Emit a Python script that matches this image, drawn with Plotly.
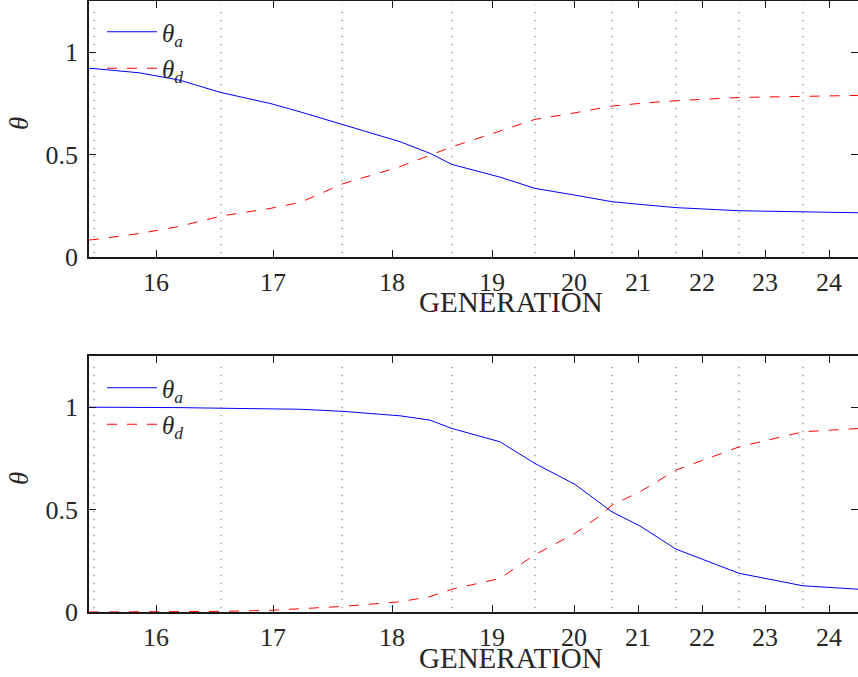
import plotly.graph_objects as go

# ---- data -------------------------------------------------------------
# x axis: time (arbitrary units); generations 16..24 label intervals
gen_labels = ["16", "17", "18", "19", "20", "21", "22", "23", "24"]
gen_tick_t = [0.67, 1.84, 3.03, 4.03, 4.85, 5.49, 6.13, 6.76, 7.40]
gen_bound_t = [0.05, 1.32, 2.53, 3.63, 4.46, 5.23, 5.87, 6.50, 7.14]

t = [0.00, 0.05, 0.51, 0.91, 1.32, 1.81, 2.11, 2.53, 3.11, 3.41, 3.63,
     4.11, 4.46, 4.86, 5.11, 5.23, 5.51, 5.87, 6.50, 7.14, 7.70]

theta_a_top = [0.920, 0.920, 0.899, 0.863, 0.803, 0.750, 0.709, 0.647, 0.563, 0.506, 0.452,
               0.390, 0.335, 0.302, 0.281, 0.270, 0.257, 0.241, 0.226, 0.221, 0.216]
theta_d_top = [0.083, 0.085, 0.115, 0.150, 0.200, 0.237, 0.266, 0.356, 0.441, 0.497, 0.538,
               0.615, 0.672, 0.704, 0.726, 0.737, 0.750, 0.763, 0.779, 0.784, 0.789]

theta_a_bot = [1.000, 1.000, 0.999, 0.998, 0.995, 0.992, 0.990, 0.980, 0.958, 0.937, 0.896,
               0.831, 0.725, 0.623, 0.535, 0.489, 0.420, 0.307, 0.189, 0.128, 0.111]
theta_d_bot = [0.000, 0.000, 0.000, 0.001, 0.003, 0.008, 0.015, 0.027, 0.050, 0.075, 0.111,
               0.164, 0.280, 0.384, 0.470, 0.522, 0.587, 0.693, 0.806, 0.880, 0.896]

y_tickvals = [0, 0.5, 1]
y_ticktext = ["0", "0.5", "1"]

# ---- figure -----------------------------------------------------------
FONT = "Liberation Serif, Times New Roman, serif"
AX = "#1a1a1a"
W, H = 858, 677
ML, MR, MT, MB = 89, 0, 1, 65

fig = go.Figure()

name_a = "<i>θ</i><sub><i>a</i></sub>"
name_d = "<i>θ</i><sub><i>d</i></sub>"

panels = [
    ("x", "y", "legend", theta_a_top, theta_d_top),
    ("x2", "y2", "legend2", theta_a_bot, theta_d_bot),
]
for xa, ya, lg, ya_vals, yd_vals in panels:
    fig.add_trace(go.Scatter(x=t, y=ya_vals, mode="lines", name=name_a,
                             line=dict(color="#0000ff", width=1), xaxis=xa, yaxis=ya,
                             legend=lg, legendgroup=lg + "a"))
    fig.add_trace(go.Scatter(x=t, y=yd_vals, mode="lines", name=name_d,
                             line=dict(color="#ff0000", width=1, dash="10px,10px"),
                             xaxis=xa, yaxis=ya, legend=lg, legendgroup=lg + "d"))
    for b in gen_bound_t:
        fig.add_shape(type="line", xref=xa, yref=ya + " domain", x0=b, x1=b, y0=0.015, y1=0.985,
                      line=dict(color="#444444", width=1, dash="1px,7px"), layer="below")

paper_h = H - MT - MB


def py(px):
    return (H - MB - px) / paper_h


def pxx(px):
    return (px - ML) / (W - ML - MR)


top_dom = [py(257), 1.0]
bot_dom = [0.0, py(356)]

TICKFONT = dict(family=FONT, size=26, color="#262626")

xcommon = dict(range=[0, 7.69], tickvals=gen_tick_t, ticktext=gen_labels,
               ticks="inside", ticklen=7, tickwidth=1, tickcolor=AX,
               showline=True, linecolor=AX, linewidth=1.5, mirror="ticks",
               showgrid=False, zeroline=False,
               tickfont=TICKFONT, ticklabelstandoff=1)
ycommon = dict(range=[0, 1.25], tickvals=y_tickvals, ticktext=y_ticktext,
               ticks="inside", ticklen=7, tickwidth=1, tickcolor=AX,
               showline=True, linecolor=AX, linewidth=1.5, mirror="ticks",
               showgrid=False, zeroline=False,
               tickfont=TICKFONT, ticklabelstandoff=4)

legcommon = dict(bgcolor="rgba(0,0,0,0)", borderwidth=0,
                 font=dict(family=FONT, size=25, color="#262626"),
                 traceorder="grouped", tracegroupgap=1, itemwidth=50,
                 xanchor="left", yanchor="top")

fig.update_layout(
    width=W, height=H,
    margin=dict(l=ML, r=MR, t=MT, b=MB, autoexpand=False),
    paper_bgcolor="white", plot_bgcolor="white",
    font=dict(family=FONT, size=26, color="#262626"),
    xaxis=dict(domain=[0, 1], anchor="y", **xcommon),
    yaxis=dict(domain=top_dom, anchor="x", **ycommon),
    xaxis2=dict(domain=[0, 1], anchor="y2", **xcommon),
    yaxis2=dict(domain=bot_dom, anchor="x2", **ycommon),
    legend=dict(x=pxx(102), y=py(9), **legcommon),
    legend2=dict(x=pxx(102), y=py(365), **legcommon),
    showlegend=True,
)

annots = [
    dict(text="<i>θ</i>", x=pxx(19), y=py(124), textangle=-90, size=27),
    dict(text="<i>θ</i>", x=pxx(19), y=py(479), textangle=-90, size=27),
    dict(text="GENERATION", x=pxx(511), y=py(302), size=29),
    dict(text="GENERATION", x=pxx(511), y=py(658), size=29),
]
for a in annots:
    sz = a.pop("size")
    fig.add_annotation(xref="paper", yref="paper", showarrow=False,
                       xanchor="center", yanchor="middle",
                       font=dict(family=FONT, size=sz, color="#262626"), **a)

fig.write_html("out.html", config={"responsive": False, "displayModeBar": False},
               post_script="document.body.style.margin='0';document.body.style.overflow='hidden';")
